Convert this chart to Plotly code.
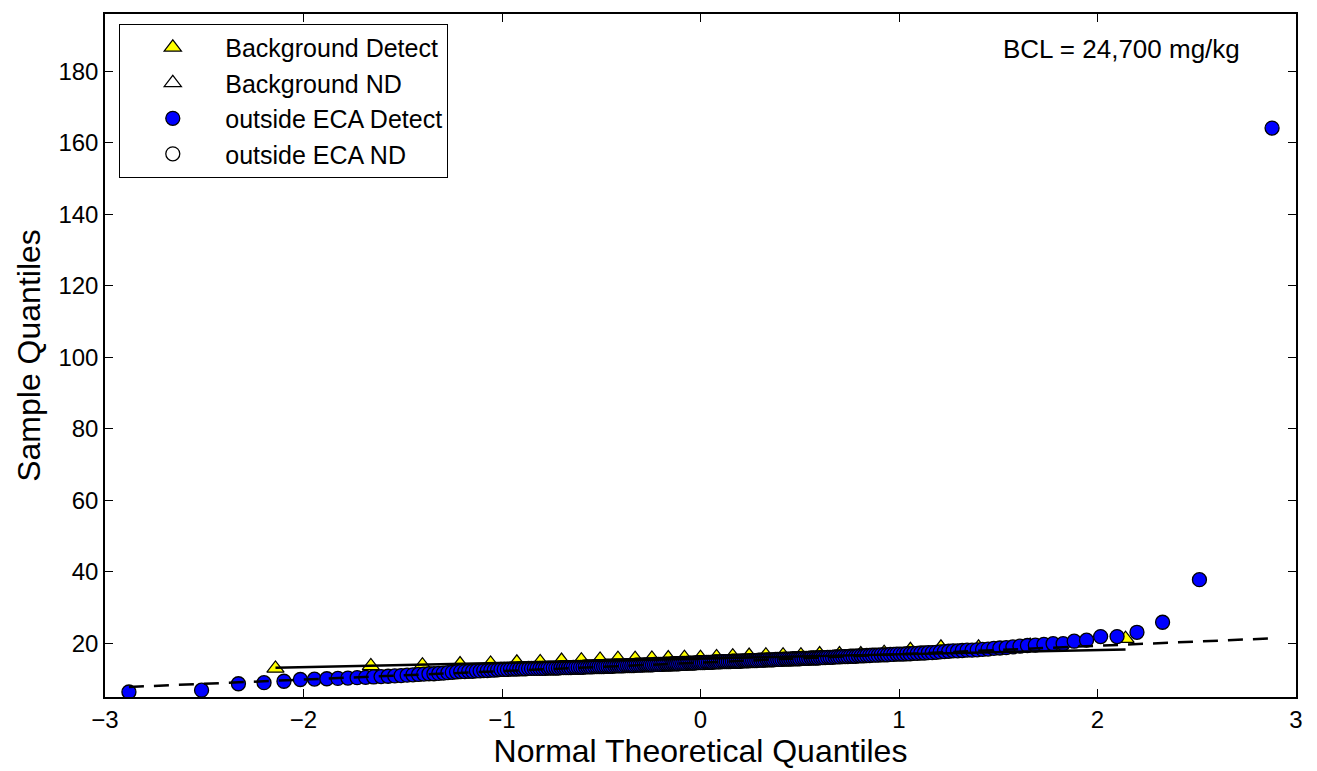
from statistics import NormalDist

import plotly.graph_objects as go

# sorted sample values (x positions are the normal quantiles)
background_detect = [
    13.0, 13.7, 13.9, 14.2, 14.4, 14.7, 14.8, 15.2, 15.3, 15.5, 15.7,
    15.7, 15.8, 15.9, 16.0, 16.0, 16.2, 16.4, 16.6, 16.7, 16.7, 16.7,
    17.0, 17.0, 17.0, 17.4, 18.2, 18.9, 18.9, 19.4, 21.3,
]

outside_eca_detect = [
    6.4, 6.9, 8.7, 9.0, 9.4, 9.9,
    10.0, 10.1, 10.2,
    10.3, 10.4, 10.5, 10.6, 10.7,
    10.8, 10.9, 11.0, 11.1, 11.2, 11.3,
    11.4, 11.5, 11.5, 11.6, 11.7, 11.8, 11.9, 12.0, 12.1,
    12.1, 12.2, 12.2, 12.3, 12.3, 12.4, 12.4, 12.5, 12.5, 12.6, 12.7,
    12.7, 12.7, 12.8, 12.8, 12.8, 12.9, 12.9, 12.9, 13.0, 13.0, 13.0, 13.0, 13.0,
    13.0, 13.0, 13.1, 13.1, 13.1, 13.1, 13.1, 13.2, 13.2, 13.2, 13.2, 13.2,
    13.3, 13.3, 13.3, 13.3,
    13.3, 13.4, 13.4, 13.4, 13.4, 13.5, 13.5, 13.5, 13.5, 13.5, 13.6, 13.6,
    13.6, 13.6, 13.7, 13.7, 13.7, 13.7,
    13.7, 13.8, 13.8, 13.8, 13.8, 13.8, 13.9, 13.9, 13.9, 13.9, 14.0, 14.0,
    14.0, 14.0, 14.0, 14.1, 14.1, 14.1, 14.1,
    14.1, 14.2, 14.2, 14.2, 14.2, 14.3, 14.3, 14.3, 14.3, 14.4, 14.4, 14.4,
    14.4, 14.5, 14.5, 14.5, 14.5, 14.6, 14.6, 14.6,
    14.6, 14.6, 14.7, 14.7, 14.7, 14.7, 14.8, 14.8, 14.8, 14.8, 14.9, 14.9,
    14.9, 14.9, 14.9, 15.0, 15.0, 15.0, 15.0, 15.0,
    15.1, 15.1, 15.1, 15.1, 15.2, 15.2, 15.2, 15.2, 15.3, 15.3, 15.3, 15.3,
    15.4, 15.4, 15.4, 15.4, 15.5, 15.5, 15.5,
    15.5, 15.6, 15.6, 15.6, 15.6, 15.7, 15.7, 15.7, 15.7, 15.8, 15.8, 15.8,
    15.8, 15.9, 15.9, 15.9, 15.9, 16.0,
    16.0, 16.0, 16.1, 16.1, 16.1, 16.2, 16.2, 16.2, 16.3, 16.3, 16.3, 16.4,
    16.4, 16.4, 16.5,
    16.5, 16.5, 16.6, 16.6, 16.7, 16.7, 16.7, 16.8, 16.8, 16.8, 16.9, 16.9,
    17.0, 17.0,
    17.0, 17.1, 17.1, 17.2, 17.2, 17.3, 17.3, 17.4, 17.4, 17.5,
    17.6, 17.7, 17.8, 17.9, 17.9, 18.0, 18.1, 18.1, 18.2,
    18.3, 18.4, 18.6, 18.7, 18.8, 19.0,
    19.2, 19.4, 19.5,
    19.7, 19.9, 19.9, 20.6, 20.9, 21.9, 21.9, 23.1, 25.9, 37.8, 164.1,
]

# reference lines (quartile fits)
background_fit_y = [13.2, 18.3]
outside_eca_fit_y = [7.8, 21.4]

x_ticks = [-3, -2, -1, 0, 1, 2, 3]
y_ticks = [20, 40, 60, 80, 100, 120, 140, 160, 180]


def normal_quantiles(n):
    nd = NormalDist()
    return [nd.inv_cdf((i - 0.5) / n) for i in range(1, n + 1)]


bg_x = normal_quantiles(len(background_detect))
eca_x = normal_quantiles(len(outside_eca_detect))

fig = go.Figure()

fig.add_trace(go.Scatter(
    x=bg_x, y=background_detect, mode="markers", name="Background Detect",
    marker=dict(symbol="triangle-up", size=15, color="#ffff00",
                line=dict(color="black", width=1.2)),
))
fig.add_trace(go.Scatter(
    x=[None], y=[None], mode="markers", name="Background ND",
    marker=dict(symbol="triangle-up-open", size=15, color="black",
                line=dict(color="black", width=1.2)),
))
fig.add_trace(go.Scatter(
    x=eca_x, y=outside_eca_detect, mode="markers", name="outside ECA Detect",
    marker=dict(symbol="circle", size=14, color="#0000ff",
                line=dict(color="black", width=1.3)),
))
fig.add_trace(go.Scatter(
    x=[None], y=[None], mode="markers", name="outside ECA ND",
    marker=dict(symbol="circle-open", size=14, color="black",
                line=dict(color="black", width=1.3)),
))

# fit lines, drawn over the markers
fig.add_trace(go.Scatter(
    x=[bg_x[0], bg_x[-1]], y=background_fit_y, mode="lines",
    line=dict(color="black", width=2.5), showlegend=False, hoverinfo="skip",
))
fig.add_trace(go.Scatter(
    x=[eca_x[0], eca_x[-1]], y=outside_eca_fit_y, mode="lines",
    line=dict(color="black", width=2.5, dash="15px,10px"),
    showlegend=False, hoverinfo="skip",
))

fig.add_annotation(
    x=0.955, y=0.949, xref="paper", yref="paper", xanchor="right", yanchor="middle",
    text="BCL = 24,700 mg/kg", showarrow=False,
    font=dict(size=26, color="black"),
)

axis_common = dict(
    showgrid=False, zeroline=False, showline=True, linecolor="black", linewidth=1.5,
    mirror="ticks", ticks="inside", ticklen=8, tickwidth=1, tickcolor="black",
    tickfont=dict(size=24, color="black"),
)

# the page body has an 8px margin, so the figure is shrunk by that much
fig.update_layout(
    width=1309, height=763,
    margin=dict(l=97, r=21, t=4, b=74),
    paper_bgcolor="white", plot_bgcolor="white",
    font=dict(family="Liberation Sans, Arial, sans-serif", color="black"),
    xaxis=dict(range=[-3, 3], tickvals=x_ticks,
               title=dict(text="Normal Theoretical Quantiles", font=dict(size=32),
                          standoff=4),
               **axis_common),
    yaxis=dict(range=[5, 196], tickvals=y_ticks,
               title=dict(text="Sample Quantiles", font=dict(size=32), standoff=8),
               **axis_common),
    legend=dict(x=0.012, y=0.986, xanchor="left", yanchor="top",
                bgcolor="white", bordercolor="black", borderwidth=1,
                font=dict(size=25, color="black"), itemwidth=95,
                entrywidth=240, tracegroupgap=0),
    showlegend=True,
)

fig.write_html("out.html")
